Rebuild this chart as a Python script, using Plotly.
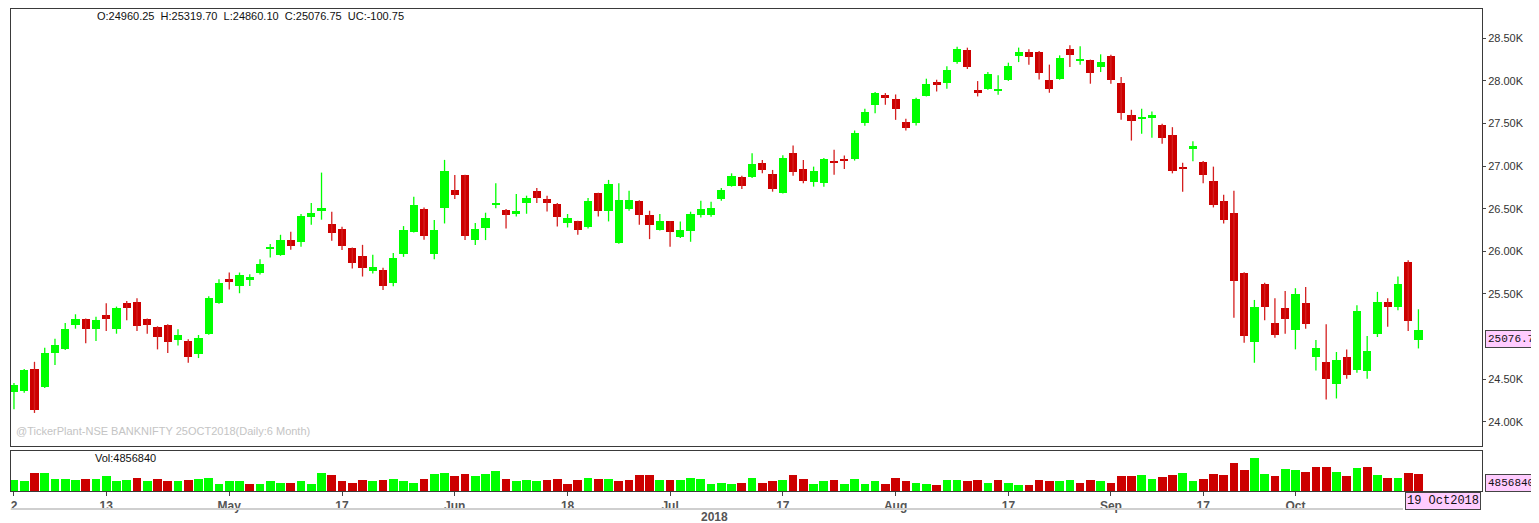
import plotly.graph_objects as go

# ---------------- data ----------------
APR = [2,3,4,5,6,9,10,11,12,13,16,17,18,19,20,23,24,25,26,27,30]
MAY = [2,3,4,7,8,9,10,11,14,15,16,17,18,21,22,23,24,25,28,29,30,31]
JUN = [1,4,5,6,7,8,11,12,13,14,15,18,19,20,21,22,25,26,27,28,29]
JUL = [2,3,4,5,6,9,10,11,12,13,16,17,18,19,20,23,24,25,26,27,30,31]
AUG = [1,2,3,6,7,8,9,10,13,14,16,17,20,21,23,24,27,28,29,30,31]
SEP = [3,4,5,6,7,10,11,12,14,17,18,19,21,24,25,26,27,28]
OCT = [1,3,4,5,8,9,10,11,12,15,16,17,19]

opens = [24347,24359,24614,24406,24806,24849,25135,25202,25092,25253,
         25092,25390,25402,25202,25115,25135,24955,24947,24790,25033,
         25394,25680,25594,25665,25751,26029,25955,26135,26112,26398,
         26468,26323,26265,26038,25947,25771,25782,25629,25967,26229,
         26496,25967,26504,26724,26896,26132,26273,26555,26485,26441,
         26571,26708,26610,26555,26327,26351,26280,26680,26468,26096,
         26496,26594,26421,26253,26351,26171,26241,26426,26426,26614,
         26771,26868,26868,27041,26908,26685,27155,26967,26818,26806,
         27057,27085,27085,27504,27720,27829,27782,27515,27504,27821,
         27986,27974,28221,28359,27896,27908,27888,28006,28292,28344,
         28344,28014,28026,28371,28245,28245,28162,28288,27974,27598,
         27551,27567,27485,27367,26990,27202,27053,26821,26594,26449,
         25747,24935,25621,25159,25332,25076,25398,24762,24700,24438,
         24759,24606,24594,25025,25406,25351,25880,24960.25]
highs = [24453,24620,24703,24868,24974,25159,25261,25210,25233,25390,
         25351,25418,25449,25210,25120,25143,25085,24967,25018,25473,
         25673,25751,25751,25731,25908,26085,26194,26229,26438,26567,
         26924,26465,26288,26045,26076,25959,25806,25979,26296,26641,
         26515,26367,27073,26896,26900,26332,26453,26798,26496,26673,
         26653,26743,26653,26567,26438,26359,26626,26688,26838,26798,
         26712,26600,26476,26438,26355,26351,26465,26594,26582,26743,
         26915,26888,27151,27073,26955,27127,27241,27073,26994,27096,
         27191,27124,27418,27673,27869,27857,27841,27555,27802,28026,
         28014,28171,28400,28390,27998,28104,28065,28214,28391,28371,
         28350,28191,28300,28418,28406,28250,28312,28308,28045,27661,
         27673,27641,27496,27457,27038,27292,27060,26994,26665,26712,
         25755,25429,25630,25449,25535,25567,25582,24959,25143,24818,
         24849,25367,25006,25524,25449,25704,25896,25319.70]
lows = [24147,24340,24103,24395,24665,24841,25092,24920,24947,25065,
        25033,25190,25065,25033,24849,24806,24896,24692,24747,25021,
        25386,25551,25508,25594,25727,25927,25947,26018,26053,26312,
        26371,26124,26014,25798,25704,25739,25547,25590,25935,26221,
        26135,25908,26327,26614,26132,26073,26132,26504,26268,26410,
        26441,26567,26468,26292,26280,26194,26268,26410,26351,26090,
        26476,26312,26143,26245,26053,26155,26112,26398,26406,26594,
        26759,26732,26861,26915,26700,26680,26888,26798,26759,26759,
        26900,26967,27065,27473,27621,27720,27543,27418,27476,27818,
        27876,27908,28200,28140,27818,27896,27838,28000,28221,28191,
        28018,27861,28014,28162,28191,27967,28104,27967,27543,27300,
        27379,27332,27261,26915,26700,27057,26798,26515,26327,25221,
        24927,24692,25190,24986,25033,24849,25092,24602,24261,24273,
        24504,24574,24504,24994,25115,25308,25065,24860.10]
closes = [24429,24602,24132,24802,24903,25088,25202,25092,25190,25209,
          25330,25335,25123,25135,24994,24935,25018,24762,24986,25449,
          25633,25641,25720,25704,25849,26045,26135,26065,26409,26449,
          26508,26214,26068,25868,25802,25818,25594,25920,26249,26547,
          26182,26249,26939,26661,26182,26261,26391,26571,26429,26476,
          26626,26629,26571,26398,26391,26253,26594,26468,26794,26606,
          26600,26429,26312,26351,26229,26249,26438,26492,26508,26724,
          26880,26771,27026,26959,26732,27096,26932,26829,26939,27085,
          27033,27065,27386,27641,27857,27809,27673,27445,27782,27967,
          27947,28132,28370,28162,27861,28085,27908,28174,28344,28280,
          28092,27908,28273,28308,28261,28092,28226,28006,27621,27535,
          27579,27598,27332,26947,26974,27238,26900,26543,26371,25653,
          25006,25347,25351,25021,25202,25504,25151,24861,24504,24720,
          24547,25300,24829,25406,25351,25621,25177.5,25076.75]
volumes = [3108000,2817000,5343000,5343000,3497000,3497000,3108000,3497000,3497000,4274000,
           2817000,3108000,3885000,2817000,3497000,2817000,2817000,3108000,3497000,3885000,
           2040000,2817000,2817000,2040000,2040000,2817000,2428000,2428000,2817000,2040000,
           5343000,4565000,2817000,2428000,3108000,2817000,3108000,3497000,2817000,2428000,
           3497000,4954000,5343000,4274000,4954000,4274000,4954000,5731000,3497000,2817000,
           3108000,2817000,3108000,3497000,2040000,3108000,3885000,3497000,3497000,2817000,
           3108000,4565000,4565000,3108000,3108000,3108000,3885000,3497000,2040000,2428000,
           2040000,2428000,3885000,2428000,2817000,3108000,4565000,3497000,2040000,2817000,
           3108000,2040000,3497000,2040000,2817000,2040000,3885000,2817000,2428000,2040000,
           1651000,3108000,3108000,2817000,3108000,2428000,3108000,2428000,1651000,1651000,
           3108000,2817000,2817000,3108000,2428000,3108000,2817000,2428000,4274000,4468000,
           4660000,3600000,3950000,4720000,5350000,2900000,3600000,4950000,4650000,8200000,
           6100000,9600000,4950000,4350000,6400000,6100000,5634000,7091000,7091000,5634000,
           4274000,6702000,7091000,4565000,3885000,3885000,5245000,4856840]

TICK_DATES = ["2018-04-02","2018-04-13","2018-05-02","2018-05-17","2018-06-01","2018-06-18",
              "2018-07-02","2018-07-17","2018-08-01","2018-08-17","2018-09-03","2018-09-17","2018-10-01"]
TICK_TEXT = ["2","13","May","17","Jun","18","Jul","17","Aug","17","Sep","17","Oct"]
Y_TICKS = [24000,24500,25500,26000,26500,27000,27500,28000,28500]
Y_TICK_TEXT = ["24.00K","24.50K","25.50K","26.00K","26.50K","27.00K","27.50K","28.00K","28.50K"]

HEADER = "O:24960.25\u00a0\u00a0H:25319.70\u00a0\u00a0L:24860.10\u00a0\u00a0C:25076.75\u00a0\u00a0UC:-100.75"
WATERMARK = "@TickerPlant-NSE BANKNIFTY 25OCT2018(Daily:6 Month)"

# ---------------- build ----------------
dates = []
for m, days in [(4, APR), (5, MAY), (6, JUN), (7, JUL), (8, AUG), (9, SEP), (10, OCT)]:
    dates += ["2018-%02d-%02d" % (m, d) for d in days]

GREEN = "#00FF00"
RED = "#CC0000"
up = [c >= o for o, c in zip(opens, closes)]
body_base = [min(o, c) for o, c in zip(opens, closes)]
body_h = [max(abs(c - o), 6) for o, c in zip(opens, closes)]
body_col = [GREEN if u else RED for u in up]

vol_col = [GREEN] + [GREEN if closes[i] >= closes[i - 1] else RED for i in range(1, len(closes))]

def wicks(flag):
    xs, ys = [], []
    for d, h, l, u in zip(dates, highs, lows, up):
        if u == flag:
            xs += [d, d, None]
            ys += [l, h, None]
    return xs, ys

fig = go.Figure()
for flag, col in [(True, GREEN), (False, "#D42020")]:
    wx, wy = wicks(flag)
    fig.add_trace(go.Scatter(x=wx, y=wy, mode="lines", line=dict(color=col, width=1.3),
                             hoverinfo="skip", showlegend=False, xaxis="x", yaxis="y"))
fig.add_trace(go.Bar(x=dates, y=body_h, base=body_base, marker=dict(color=body_col, line=dict(width=0)),
                     width=0.8, showlegend=False, xaxis="x", yaxis="y"))
fig.add_trace(go.Bar(x=dates, y=volumes, marker=dict(color=vol_col, line=dict(width=0)),
                     width=0.85, showlegend=False, xaxis="x2", yaxis="y2"))

# The page body has an 8px default margin: the figure starts at page (8, 8).
OFF = 8
PAGE_W, PAGE_H = 1539, 523
W, H = PAGE_W - OFF, PAGE_H - OFF
L, R, T, B = 11 - OFF, 57, 9 - OFF, 32
ph = H - T - B
pw = W - L - R
def py(ypage):
    return (PAGE_H - B - ypage) / ph
def px(xpage):
    return (xpage - (L + OFF)) / pw

BORDER = "#3a3a3a"
xr = [-0.29, 143.2]
fig.update_layout(
    width=W, height=H, margin=dict(l=L, r=R, t=T, b=B, autoexpand=False),
    paper_bgcolor="white", plot_bgcolor="white", bargap=0,
    font=dict(family="Liberation Sans, Arial, sans-serif", size=11, color="#222"),
    xaxis=dict(type="category", anchor="y", range=xr, showticklabels=False, ticks="",
               showgrid=False, showline=True, mirror=True, linecolor=BORDER, linewidth=1,
               categoryorder="array", categoryarray=dates, automargin=False),
    xaxis2=dict(type="category", anchor="y2", matches="x", range=xr, showgrid=False,
                showline=True, mirror=True, linecolor=BORDER, linewidth=1,
                categoryorder="array", categoryarray=dates, automargin=False,
                tickmode="array", tickvals=TICK_DATES, ticktext=TICK_TEXT,
                ticks="outside", ticklen=4, tickcolor="#444",
                tickfont=dict(family="Liberation Sans Narrow, Arial Narrow, Liberation Sans, sans-serif",
                              size=12, color="#555", weight="bold")),
    yaxis=dict(domain=[py(446), 1], side="right", range=[23715, 28844], showgrid=False,
               showline=True, mirror=True, linecolor=BORDER, linewidth=1, zeroline=False,
               tickmode="array", tickvals=Y_TICKS, ticktext=Y_TICK_TEXT, automargin=False,
               ticks="outside", ticklen=3, tickcolor="#444",
               tickfont=dict(size=11, color="#333")),
    yaxis2=dict(domain=[0, py(451)], side="right", range=[0, 11630000], showgrid=False,
                showline=True, mirror=True, linecolor=BORDER, linewidth=1, zeroline=False,
                showticklabels=False, ticks="", automargin=False),
)

MONO = "Liberation Mono, DejaVu Sans Mono, monospace"
PINK = "#FFCCFF"
ann = [
    dict(text=HEADER, xref="paper", yref="paper", x=px(95), y=py(16), xanchor="left", yanchor="middle",
         showarrow=False, font=dict(size=11, color="#111")),
    dict(text=WATERMARK, xref="paper", yref="paper", x=px(14), y=py(431), xanchor="left", yanchor="middle",
         showarrow=False, font=dict(size=11, color="#c4c4c4")),
    dict(text="Vol:%d" % volumes[-1], xref="paper", yref="paper", x=px(93), y=py(458), xanchor="left",
         yanchor="middle", showarrow=False, font=dict(size=11, color="#111")),
    dict(text="%.1f" % (int(closes[-1] * 10) / 10), xref="paper", yref="y", x=px(1485), y=closes[-1],
         xanchor="left", yanchor="top", showarrow=False, bgcolor=PINK, bordercolor="#444", borderwidth=1,
         borderpad=2, font=dict(family=MONO, size=11, color="#111")),
    dict(text="%d" % volumes[-1], xref="paper", yref="y2", x=px(1485), y=volumes[-1],
         xanchor="left", yanchor="top", showarrow=False, bgcolor=PINK, bordercolor="#444", borderwidth=1,
         borderpad=2, font=dict(family=MONO, size=11, color="#111")),
    dict(text="19 Oct2018", xref="paper", yref="paper", x=px(1481), y=py(492), xanchor="right",
         yanchor="top", showarrow=False, bgcolor=PINK, bordercolor="#444", borderwidth=1, borderpad=1,
         font=dict(family=MONO, size=12, color="#111")),
    dict(text="<b>2018</b>", xref="paper", yref="paper", x=px(714), y=py(517), xanchor="center",
         yanchor="middle", showarrow=False,
         font=dict(family="Liberation Sans Narrow, Arial Narrow, Liberation Sans, sans-serif", size=12, color="#555")),
]
fig.update_layout(annotations=ann)
fig.add_shape(type="line", xref="paper", yref="paper", x0=0, x1=px(1403), y0=py(509), y1=py(509),
              line=dict(color="#cfcfcf", width=2))

fig.write_html("out.html")
